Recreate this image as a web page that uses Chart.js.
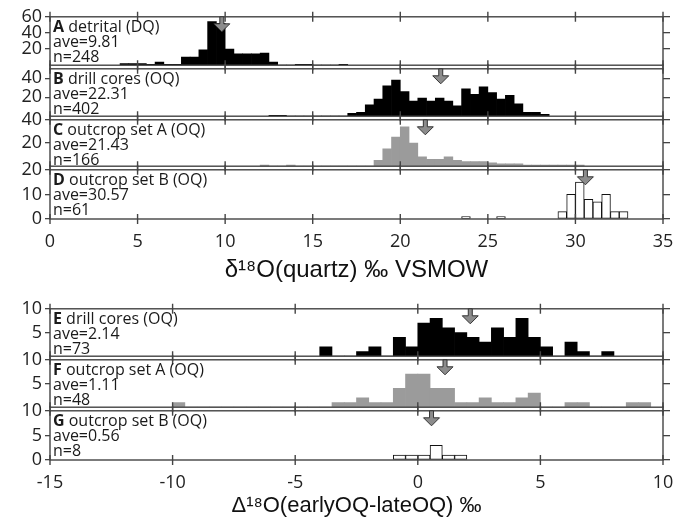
<!DOCTYPE html>
<html>
<head>
<meta charset="utf-8">
<script src="https://cdn.jsdelivr.net/npm/chart.js@4.4.1/dist/chart.umd.min.js"></script>
<style>
body { margin: 0; background: #fff; width: 686px; height: 519px; overflow: hidden; position: relative; }
canvas { position: absolute; left: 0; }
</style>
</head>
<body>
<script>
// histogram data, 0.5 permil bins (start = left edge of first bin)
var binWidth = 0.5;
var xTicksTop = [0, 5, 10, 15, 20, 25, 30, 35];
var xTicksBottom = [-15, -10, -5, 0, 5, 10];

var panelLetters = ['A', 'B', 'C', 'D', 'E', 'F', 'G'];
var panelNames = ['detrital (DQ)', 'drill cores (OQ)', 'outcrop set A (OQ)', 'outcrop set B (OQ)',
                  'drill cores (OQ)', 'outcrop set A (OQ)', 'outcrop set B (OQ)'];
var aveValues = [9.81, 22.31, 21.43, 30.57, 2.14, 1.11, 0.56];
var nValues = [248, 402, 166, 61, 73, 48, 8];

var startA = 4.0;
var countsA = [2, 2, 2, 1, 4, 1, 1, 10, 10, 19, 54, 52, 20, 14, 14, 14, 15, 4, 0, 0, 1, 1, 0, 0, 0, 1];
var startB = 12.5;
var countsB = [1, 1, 0, 0, 0, 0, 0, 0, 0, 3, 4, 12, 18, 32, 38, 26, 16, 19, 16, 19, 16, 11, 29, 23, 31, 25, 18, 22, 13, 4, 4, 2];
var startC = 12.0;
var countsC = [1, 0, 0, 1, 0, 0, 0, 0, 0, 0, 0, 0, 0, 5, 15, 25, 34, 20, 8, 6, 6, 8, 5, 4, 4, 4, 3, 2, 2, 2, 1, 1, 1, 1, 1, 1, 1];
var startD = 23.5;
var countsD = [1, 0, 0, 0, 1, 0, 0, 0, 0, 0, 0, 3, 10, 15, 8, 7, 10, 3, 3];

var startE = -4.0;
var countsE = [2, 0, 0, 1, 2, 0, 4, 2, 7, 8, 6, 5, 4, 3, 6, 4, 8, 4, 2, 0, 3, 1, 0, 1];
var startF = -10.0;
var countsF = [1, 0, 0, 0, 0, 0, 0, 0, 0, 0, 0, 0, 0, 1, 1, 2, 1, 1, 4, 7, 7, 4, 4, 1, 1, 2, 1, 1, 2, 3, 0, 0, 1, 1, 0, 0, 0, 1, 1];
var startG = -1.0;
var countsG = [1, 1, 1, 3, 1, 1];

// layout of the seven panels
var PAD = 12;
var panels = [
  { top: 15,  bottom: 67,  start: startA, counts: countsA, yMax: 60, yTicks: [20, 40, 60], fill: '#000', line: '#000', xMin: 0, xMax: 35, xTicks: xTicksTop },
  { top: 67,  bottom: 118, start: startB, counts: countsB, yMax: 50, yTicks: [20, 40], fill: '#000', line: '#000', xMin: 0, xMax: 35, xTicks: xTicksTop },
  { top: 118, bottom: 168, start: startC, counts: countsC, yMax: 40, yTicks: [20, 40], fill: '#9b9b9b', line: '#9b9b9b', xMin: 0, xMax: 35, xTicks: xTicksTop },
  { top: 168, bottom: 219, start: startD, counts: countsD, yMax: 20, yTicks: [0, 10, 20], fill: '#fff', line: '#111', xMin: 0, xMax: 35, xTicks: xTicksTop,
    axisH: 70, title: 'δ¹⁸O(quartz) ‰ VSMOW', titleSize: 24, titlePad: 4 },
  { top: 307, bottom: 358, start: startE, counts: countsE, yMax: 10, yTicks: [5, 10], fill: '#000', line: '#000', xMin: -15, xMax: 10, xTicks: xTicksBottom },
  { top: 358, bottom: 409, start: startF, counts: countsF, yMax: 10, yTicks: [5, 10], fill: '#9b9b9b', line: '#9b9b9b', xMin: -15, xMax: 10, xTicks: xTicksBottom },
  { top: 409, bottom: 460, start: startG, counts: countsG, yMax: 10, yTicks: [0, 5, 10], fill: '#fff', line: '#111', xMin: -15, xMax: 10, xTicks: xTicksBottom,
    axisH: 59, title: 'Δ¹⁸O(earlyOQ-lateOQ) ‰', titleSize: 22, titlePad: 0 }
];

var axisColor = '#444';

// frame, crossing x ticks, mean arrow and panel text
var panelDeco = {
  id: 'panelDeco',
  afterDatasetsDraw: function(chart, args, o) {
    var ctx = chart.ctx, a = chart.chartArea, xs = chart.scales.x;
    ctx.save();
    ctx.strokeStyle = axisColor;
    ctx.lineWidth = 1.4;
    ctx.strokeRect(a.left, a.top, a.right - a.left, a.bottom - a.top);
    ctx.beginPath();
    o.xTicks.forEach(function(v) {
      var px = xs.getPixelForValue(v);
      ctx.moveTo(px, a.top - 5); ctx.lineTo(px, a.top + 5);
      ctx.moveTo(px, a.bottom - 5); ctx.lineTo(px, a.bottom + 5);
    });
    ctx.stroke();

    // arrow at the average
    var ax = xs.getPixelForValue(o.ave), t = a.top;
    ctx.beginPath();
    ctx.moveTo(ax - 2, t);
    ctx.lineTo(ax + 2, t);
    ctx.lineTo(ax + 2, t + 7);
    ctx.lineTo(ax + 8, t + 7);
    ctx.lineTo(ax, t + 15);
    ctx.lineTo(ax - 8, t + 7);
    ctx.lineTo(ax - 2, t + 7);
    ctx.closePath();
    ctx.fillStyle = '#8c8c8c';
    ctx.fill();
    ctx.strokeStyle = '#333';
    ctx.lineWidth = 1;
    ctx.stroke();

    // text
    ctx.fillStyle = '#1a1a1a';
    ctx.textBaseline = 'middle';
    ctx.textAlign = 'left';
    var tx = a.left + 3;
    ctx.font = 'bold 16px "Open Sans"';
    ctx.fillText(o.letter, tx, t + 11);
    var w = ctx.measureText(o.letter + ' ').width;
    ctx.font = '16px "Open Sans"';
    ctx.fillText(o.name, tx + w, t + 11);
    ctx.fillText('ave=' + o.ave.toFixed(2), tx, t + 26);
    ctx.fillText('n=' + o.n, tx, t + 41);
    ctx.restore();
  }
};

panels.forEach(function(p, i) {
  var cv = document.createElement('canvas');
  var h = (p.bottom - p.top) + PAD + (p.axisH || PAD);
  cv.width = 686;
  cv.height = h;
  cv.style.top = (p.top - PAD) + 'px';
  document.body.appendChild(cv);

  var pts = p.counts.map(function(c, k) {
    return { x: p.start + k * binWidth + binWidth / 2, y: c };
  });

  var hasAxis = !!p.axisH;
  new Chart(cv.getContext('2d'), {
    type: 'bar',
    data: {
      datasets: [{
        data: pts,
        backgroundColor: p.fill,
        borderColor: p.line,
        borderWidth: p.fill === '#fff' ? 1 : 0,
        borderSkipped: false,
        barPercentage: 1,
        categoryPercentage: 1
      }]
    },
    options: {
      responsive: false,
      animation: false,
      devicePixelRatio: 1,
      layout: { padding: { top: PAD, bottom: hasAxis ? 0 : PAD, left: 0, right: 0 } },
      plugins: {
        legend: { display: false },
        tooltip: { enabled: false },
        panelDeco: { letter: panelLetters[i], name: panelNames[i], ave: aveValues[i], n: nValues[i], xTicks: p.xTicks }
      },
      scales: {
        x: {
          type: 'linear',
          min: p.xMin,
          max: p.xMax,
          offset: false,
          display: hasAxis,
          afterBuildTicks: function(s) { s.ticks = p.xTicks.map(function(v) { return { value: v }; }); },
          afterFit: function(s) { if (hasAxis) s.height = p.axisH; },
          grid: { display: false, drawTicks: false, offset: false },
          border: { display: false },
          ticks: { padding: 12, color: '#222', font: { family: 'Open Sans', size: 18 }, maxRotation: 0 },
          title: {
            display: hasAxis,
            text: p.title,
            color: '#111',
            font: { family: 'Liberation Sans', size: p.titleSize || 20 },
            padding: { top: 0, bottom: p.titlePad || 0 }
          }
        },
        y: {
          position: 'left',
          min: 0,
          max: p.yMax,
          afterBuildTicks: function(s) { s.ticks = p.yTicks.map(function(v) { return { value: v }; }); },
          afterFit: function(s) { s.width = 50; },
          border: { display: false },
          grid: { drawOnChartArea: false, drawTicks: true, tickLength: 5, color: axisColor, lineWidth: 1.3 },
          ticks: { padding: 3, color: '#222', font: { family: 'Open Sans', size: 18 } }
        },
        y2: {
          position: 'right',
          min: 0,
          max: p.yMax,
          afterBuildTicks: function(s) { s.ticks = p.yTicks.map(function(v) { return { value: v }; }); },
          afterFit: function(s) { s.width = 23; },
          border: { display: false },
          grid: { drawOnChartArea: false, drawTicks: true, tickLength: 7, color: axisColor, lineWidth: 1.3 },
          ticks: { display: false }
        }
      }
    },
    plugins: [panelDeco]
  });
});
</script>
</body>
</html>
